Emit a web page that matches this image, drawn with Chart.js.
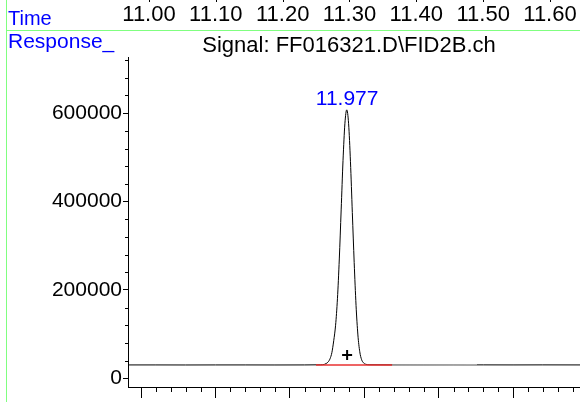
<!DOCTYPE html>
<html><head><meta charset="utf-8">
<script src="https://cdn.jsdelivr.net/npm/chart.js@4.4.1/dist/chart.umd.min.js"></script>
<style>html,body{margin:0;padding:0;background:#fff;overflow:hidden}#wrap{width:580px;height:402px;position:relative}canvas{display:block}</style>
</head><body><div id="wrap"><canvas id="c" width="580" height="402"></canvas></div>
<script>
// ---- data ----
const signalTimes = [11.6825, 11.72, 11.76, 11.80, 11.84, 11.88, 11.92, 11.9415, 11.9465, 11.949, 11.9515, 11.954, 11.9565, 11.959, 11.9615, 11.964, 11.9665, 11.969, 11.9715, 11.974, 11.9765, 11.979, 11.9815, 11.984, 11.9865, 11.989, 11.9915, 11.994, 11.9965, 11.999, 12.0015, 12.0065, 12.04, 12.08, 12.12, 12.16, 12.20, 12.24, 12.29];
const signalValues = [30200, 30200, 30100, 30200, 30200, 30100, 30200, 30500, 31500, 33500, 37000, 44000, 58000, 85000, 120000, 180000, 270000, 381000, 493000, 576000, 607500, 576000, 490000, 375000, 262000, 165000, 98000, 60000, 42000, 35000, 32000, 30600, 30300, 30300, 30400, 30300, 30200, 30300, 30200];
const redBaseTimes = [11.9352, 12.0374];
const redBaseValues = [30200, 30300];
const grayBaseTimes = [12.0374, 12.1516];
const grayBaseValues = [30300, 30500];
const peakTimes = [11.977];
const peakApex = [607500];
const peakLabels = ['11.977'];
const markerTimes = [11.977];
const markerValues = [52900];
const yTickValues = [0, 200000, 400000, 600000];
const xMajorTicks = [11.7, 11.8, 11.9, 12.0, 12.1, 12.2];
const topTickValues = [11.00, 11.10, 11.20, 11.30, 11.40, 11.50, 11.60];
const topTickLabels = ['11.00', '11.10', '11.20', '11.30', '11.40', '11.50', '11.60'];
const headerTime = 'Time';
const headerResponse = 'Response_';
const signalTitle = 'Signal: FF016321.D\\FID2B.ch';

const FONT = '"Liberation Sans", Arial, Helvetica, sans-serif';
const toXY = (ts, vs) => ts.map((t, i) => ({x: t, y: vs[i]}));

const decor = {
  id: 'decor',
  afterDraw(chart) {
    const ctx = chart.ctx, x = chart.scales.x, y = chart.scales.y, x2 = chart.scales.x2;
    const area = chart.chartArea;
    ctx.save();
    // green frame lines
    ctx.strokeStyle = '#80ff80'; ctx.lineWidth = 1;
    ctx.beginPath(); ctx.moveTo(6.5, 0); ctx.lineTo(6.5, 402); ctx.stroke();
    ctx.beginPath(); ctx.moveTo(6, 30.5); ctx.lineTo(580, 30.5); ctx.stroke();
    // header texts
    ctx.textBaseline = 'alphabetic';
    ctx.fillStyle = '#0000ff'; ctx.textAlign = 'left';
    ctx.font = '20px ' + FONT;
    ctx.fillText(headerTime, 8, 25);
    ctx.font = '21px ' + FONT;
    ctx.fillText(headerResponse, 8, 48);
    ctx.fillStyle = '#000'; ctx.textAlign = 'center';
    ctx.font = '22px ' + FONT;
    topTickValues.forEach((v, i) => {
      const px = x2.getPixelForValue(v);
      ctx.fillText(topTickLabels[i], px, 21);
      ctx.beginPath(); ctx.moveTo(Math.round(px) + 0.5, 0); ctx.lineTo(Math.round(px) + 0.5, 2); ctx.strokeStyle = '#000'; ctx.stroke();
    });
    ctx.font = '22px ' + FONT;
    ctx.fillText(signalTitle, 349, 52);
    // minor ticks
    ctx.strokeStyle = '#000'; ctx.lineWidth = 1;
    for (let v = 11.70; v < x.max; v += 0.02) {
      const r = Math.round(v * 100) / 100;
      if (Math.abs(r * 10 - Math.round(r * 10)) < 1e-6) continue;
      const px = Math.round(x.getPixelForValue(r)) + 0.5;
      ctx.beginPath(); ctx.moveTo(px, area.bottom); ctx.lineTo(px, area.bottom + 5); ctx.stroke();
    }
    for (let v = 40000; v < y.max; v += 40000) {
      if (v % 200000 === 0) continue;
      const py = Math.round(y.getPixelForValue(v)) + 0.5;
      ctx.beginPath(); ctx.moveTo(area.left - 3, py); ctx.lineTo(area.left, py); ctx.stroke();
    }
    // peak label
    ctx.fillStyle = '#0000ff'; ctx.textAlign = 'center'; ctx.font = '21px ' + FONT;
    peakTimes.forEach((t, i) => {
      ctx.fillText(peakLabels[i], x.getPixelForValue(t), y.getPixelForValue(peakApex[i]) - 5);
    });
    ctx.restore();
  }
};

new Chart(document.getElementById('c'), {
  type: 'line',
  data: {
    datasets: [
      {data: toXY(markerTimes, markerValues), type: 'scatter', pointStyle: 'cross', pointRadius: 5, borderColor: '#000', backgroundColor: '#000', pointBorderWidth: 2, order: 0},
      {data: toXY(redBaseTimes, redBaseValues), borderColor: '#e83030', borderWidth: 1.5, pointRadius: 0, order: 1},
      {data: toXY(grayBaseTimes, grayBaseValues), borderColor: '#a8a8a8', borderWidth: 1.5, pointRadius: 0, order: 2},
      {data: toXY(signalTimes, signalValues), borderColor: '#000', borderWidth: 1, pointRadius: 0, cubicInterpolationMode: 'monotone', order: 3}
    ]
  },
  options: {
    responsive: false, animation: false, devicePixelRatio: 1,
    layout: {autoPadding: false, padding: {top: 57, right: 0, bottom: 0, left: 0}},
    plugins: {legend: {display: false}, tooltip: {enabled: false}, title: {display: false}},
    scales: {
      x: {
        type: 'linear', min: 11.6825, max: 12.290, position: 'bottom',
        ticks: {display: false},
        grid: {drawOnChartArea: false, drawTicks: true, tickLength: 11, color: '#000', tickWidth: 1},
        border: {display: true, color: '#000', width: 1},
        afterBuildTicks(s) { s.ticks = xMajorTicks.map(v => ({value: v})); },
        afterFit(s) { s.height = 15; }
      },
      x2: {
        type: 'linear', min: 10.9686, max: 11.6449, display: false
      },
      y: {
        type: 'linear', min: -19750, max: 727100,
        ticks: {color: '#000', font: {size: 21, family: FONT}, padding: 1, callback: v => String(v)},
        grid: {drawOnChartArea: false, drawTicks: true, tickLength: 5, color: '#000', tickWidth: 1},
        border: {display: true, color: '#000', width: 1},
        afterBuildTicks(s) { s.ticks = yTickValues.map(v => ({value: v})); },
        afterFit(s) { s.width = 128; }
      }
    }
  },
  plugins: [decor]
});
</script></body></html>
